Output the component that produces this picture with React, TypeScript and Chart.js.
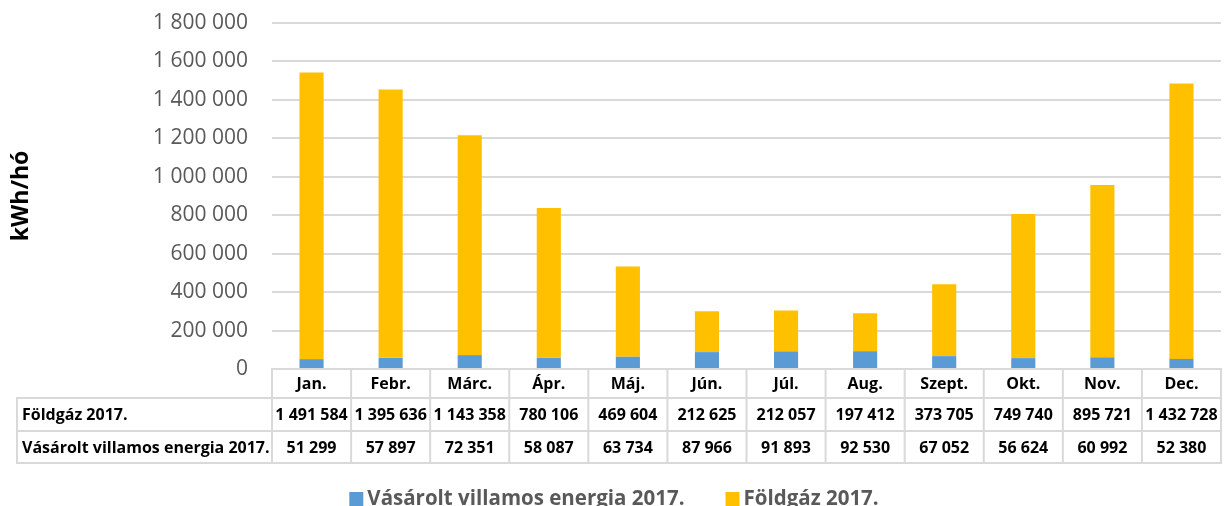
import React, { useEffect, useRef } from 'react';
import { Chart, registerables } from 'chart.js';

Chart.register(...registerables);

const months = ['Jan.', 'Febr.', 'Márc.', 'Ápr.', 'Máj.', 'Jún.', 'Júl.', 'Aug.', 'Szept.', 'Okt.', 'Nov.', 'Dec.'];
const gas2017 = [1491584, 1395636, 1143358, 780106, 469604, 212625, 212057, 197412, 373705, 749740, 895721, 1432728];
const electricity2017 = [51299, 57897, 72351, 58087, 63734, 87966, 91893, 92530, 67052, 56624, 60992, 52380];
const gasLabel = 'Földgáz 2017.';
const elecLabel = 'Vásárolt villamos energia 2017.';
const yAxisTitle = 'kWh/hó';
const yMin = 0;
const yMax = 1800000;
const yStep = 200000;

const fmt = (v: number) => String(Math.round(v)).replace(/\B(?=(\d{3})+(?!\d))/g, ' ');

const tableAndLegendPlugin = {
  id: 'tableAndLegend',
  afterDraw(chart: any) {
    const { ctx, chartArea, scales } = chart;
    const xs = scales.x;
    const labels: string[] = chart.data.labels;
    const n = labels.length;
    const left = chartArea.left;
    const right = chartArea.right;
    const colW = (right - left) / n;
    const y0 = chartArea.bottom;
    const y1 = y0 + 29;
    const y2 = y1 + 33;
    const y3 = y2 + 32;
    const tableLeft = 17;
    const elecDs = chart.data.datasets[0];
    const gasDs = chart.data.datasets[1];

    ctx.save();
    ctx.strokeStyle = '#d9d9d9';
    ctx.lineWidth = 2;
    const line = (ax: number, ay: number, bx: number, by: number) => {
      ctx.beginPath();
      ctx.moveTo(ax, ay);
      ctx.lineTo(bx, by);
      ctx.stroke();
    };
    line(left, y0, right, y0);
    line(tableLeft - 1, y1, right + 1, y1);
    line(tableLeft - 1, y2, right + 1, y2);
    line(tableLeft - 1, y3, right + 1, y3);
    for (let i = 0; i <= n; i++) {
      const bx = left + i * colW;
      line(bx, y0 - 1, bx, y3 + 1);
    }
    line(tableLeft, y1 - 1, tableLeft, y3 + 1);

    ctx.fillStyle = '#000000';
    ctx.font = 'bold 16px "Open Sans"';
    ctx.textAlign = 'center';
    ctx.textBaseline = 'middle';
    for (let i = 0; i < n; i++) {
      const cx = xs.getPixelForValue(i);
      ctx.fillText(labels[i], cx, (y0 + y1) / 2 + 1);
      ctx.fillText(fmt(gasDs.data[i]), cx, (y1 + y2) / 2 + 1);
      ctx.fillText(fmt(elecDs.data[i]), cx, (y2 + y3) / 2 + 1);
    }
    ctx.textAlign = 'left';
    ctx.fillText(gasDs.label, 22, (y1 + y2) / 2 + 1);
    ctx.fillText(elecDs.label, 22, (y2 + y3) / 2 + 1);

    // legend
    ctx.font = 'bold 20.5px "Open Sans"';
    ctx.textBaseline = 'alphabetic';
    const box = 14;
    const gapBoxText = 4;
    const itemGap = 41;
    const items = chart.data.datasets.map((d: any) => ({ label: d.label, color: d.backgroundColor }));
    const widths = items.map((it: any) => box + gapBoxText + ctx.measureText(it.label).width);
    const total = widths.reduce((a: number, b: number) => a + b, 0) + itemGap * (items.length - 1);
    let lx = 614 - total / 2;
    const baseY = 505;
    items.forEach((it: any, k: number) => {
      ctx.fillStyle = it.color;
      ctx.fillRect(lx, 492, box, box);
      ctx.fillStyle = '#595959';
      ctx.fillText(it.label, lx + box + gapBoxText, baseY);
      lx += widths[k] + itemGap;
    });
    ctx.restore();
  },
};

export default function App() {
  const canvasRef = useRef<HTMLCanvasElement | null>(null);

  useEffect(() => {
    document.body.style.margin = '0';
    const canvas = canvasRef.current;
    if (!canvas) return;
    const chart = new Chart(canvas, {
      type: 'bar',
      data: {
        labels: months,
        datasets: [
          {
            label: elecLabel,
            data: electricity2017,
            backgroundColor: '#5B9BD5',
            borderWidth: 0,
            barPercentage: 0.305,
            categoryPercentage: 1,
          },
          {
            label: gasLabel,
            data: gas2017,
            backgroundColor: '#FFC000',
            borderWidth: 0,
            barPercentage: 0.305,
            categoryPercentage: 1,
          },
        ],
      },
      options: {
        animation: false,
        responsive: false,
        devicePixelRatio: 1,
        layout: { padding: { top: 23, right: 4, left: 0, bottom: 0 } },
        plugins: {
          legend: { display: false },
          tooltip: { enabled: false },
          title: { display: false },
        },
        scales: {
          x: {
            stacked: true,
            offset: true,
            grid: { display: false },
            border: { display: false },
            ticks: { display: false },
            afterFit: (scale: any) => {
              scale.height = 137;
            },
          },
          y: {
            stacked: true,
            min: yMin,
            max: yMax,
            grid: { color: '#d9d9d9', lineWidth: 2, drawTicks: false },
            border: { display: false },
            ticks: {
              stepSize: yStep,
              padding: 24,
              color: '#595959',
              font: { family: 'Open Sans', size: 21 },
              callback: (v: any) => fmt(Number(v)),
            },
            title: {
              display: true,
              text: yAxisTitle,
              color: '#000000',
              font: { family: 'Open Sans', size: 23, weight: 'bold' },
              padding: { top: 8, bottom: 0 },
            },
            afterFit: (scale: any) => {
              scale.width = 272;
              scale.paddingTop = 0;
              scale.paddingBottom = 0;
            },
          },
        },
      },
      plugins: [tableAndLegendPlugin],
    });
    return () => chart.destroy();
  }, []);

  return (
    <div style={{ width: 1225, height: 506, position: 'relative' }}>
      <canvas ref={canvasRef} width={1225} height={506} style={{ display: 'block' }} />
    </div>
  );
}
